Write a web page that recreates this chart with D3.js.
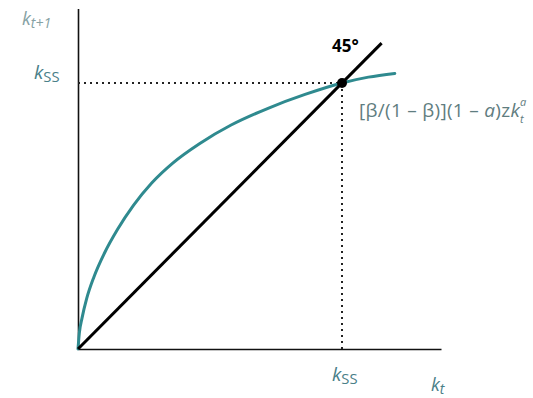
<!DOCTYPE html>
<html>
<head>
<meta charset="utf-8">
<script src="https://cdn.jsdelivr.net/npm/d3@7"></script>
<style>
  html, body { margin: 0; padding: 0; background: #fff; }
  svg { display: block; font-family: "Open Sans", "Liberation Sans", sans-serif; }
</style>
</head>
<body>
<svg id="chart" width="533" height="398"></svg>
<script>
// Steady state of capital, normalised so that k_ss = 1
const steadyState = 1;

// Savings curve k_{t+1} = [β/(1-β)](1-a) z k_t^a, sampled points (k_t, k_{t+1})
const curveK = [0, 0.005, 0.015, 0.033, 0.06, 0.1, 0.15, 0.21, 0.28, 0.36, 0.46, 0.58, 0.72, 0.86, 1.0, 1.1, 1.2];
const curveNext = [0, 0.06, 0.115, 0.19, 0.27, 0.36, 0.45, 0.54, 0.625, 0.70, 0.772, 0.842, 0.905, 0.957, 1.0, 1.022, 1.036];

// 45-degree line endpoints (k_t = k_{t+1})
const diagonal = [0, 1.15];

// Axis extents
const xMax = 1.375;
const yMax = 1.28;

const svg = d3.select("#chart");
const x0 = 78, y0 = 349;
const x = d3.scaleLinear().domain([0, 1]).range([x0, 342]);
const y = d3.scaleLinear().domain([0, 1]).range([y0, 83]);

const teal = "#2f8a8f";
const labelTeal = "#4a8088";
const formulaGrey = "#5f7d80";

// Axes (no ticks)
const xAxis = d3.axisBottom(x.copy().domain([0, xMax]).range([x0, x(xMax)])).tickValues([]).tickSizeOuter(0);
const yAxis = d3.axisLeft(y.copy().domain([0, yMax]).range([y0, y(yMax)])).tickValues([]).tickSizeOuter(0);
svg.append("g").attr("transform", `translate(0,${y0})`).call(xAxis)
  .select(".domain").attr("stroke", "#111").attr("stroke-width", 1.6);
svg.append("g").attr("transform", `translate(${x0},0)`).call(yAxis)
  .select(".domain").attr("stroke", "#111").attr("stroke-width", 1.6);

// Dotted guides to the steady state
svg.append("line")
  .attr("x1", x(0)).attr("x2", x(steadyState))
  .attr("y1", y(steadyState)).attr("y2", y(steadyState))
  .attr("stroke", "#222").attr("stroke-width", 2).attr("stroke-dasharray", "2,4");
svg.append("line")
  .attr("x1", x(steadyState)).attr("x2", x(steadyState))
  .attr("y1", y(steadyState)).attr("y2", y(0))
  .attr("stroke", "#222").attr("stroke-width", 2).attr("stroke-dasharray", "2,4");

// Savings curve
const pts = curveK.map((k, i) => [k, curveNext[i]]);
const line = d3.line().x(d => x(d[0])).y(d => y(d[1])).curve(d3.curveMonotoneX);
svg.append("path").datum(pts)
  .attr("d", line)
  .attr("fill", "none").attr("stroke", teal).attr("stroke-width", 3)
  .attr("stroke-linecap", "round");

// 45-degree line
svg.append("line")
  .attr("x1", x(diagonal[0])).attr("y1", y(diagonal[0]))
  .attr("x2", x(diagonal[1])).attr("y2", y(diagonal[1]))
  .attr("stroke", "#000").attr("stroke-width", 3);

// Steady state point
svg.append("circle")
  .attr("cx", x(steadyState)).attr("cy", y(steadyState)).attr("r", 5)
  .attr("fill", "#000");

// Axis and point labels
const kLabel = (xp, yp, sub, fill, size, subItalic) => {
  const t = svg.append("text").attr("x", xp).attr("y", yp).attr("fill", fill).attr("font-size", size);
  t.append("tspan").attr("font-style", "italic").text("k");
  t.append("tspan").attr("font-size", size * 0.78).attr("dy", 3)
    .attr("font-style", subItalic ? "italic" : "normal").text(sub);
  return t;
};

kLabel(22, 25, "t+1", "#86a2a4", 18, true);
kLabel(34, 79, "SS", labelTeal, 19, false);
kLabel(332, 381, "SS", labelTeal, 19, false);
kLabel(431, 391, "t", labelTeal, 18, true);

svg.append("text")
  .attr("x", 332).attr("y", 52)
  .attr("font-size", 17).attr("font-weight", "bold").attr("fill", "#000")
  .text("45°");

// Curve formula label
const fx = 359, fy = 117;
const f = svg.append("text").attr("x", fx).attr("y", fy).attr("font-size", 19)
  .attr("letter-spacing", 0.3).attr("fill", formulaGrey);
f.append("tspan").text("[β/(1 – β)](1 – ");
f.append("tspan").attr("font-style", "italic").text("a");
f.append("tspan").text(")z");
f.append("tspan").attr("font-style", "italic").text("k");
const fSubX = Math.min(fx + f.node().getComputedTextLength(), 524);
svg.append("text").attr("x", fSubX).attr("y", fy + 6).attr("font-size", 11)
  .attr("font-style", "italic").attr("fill", formulaGrey).text("t");
svg.append("text").attr("x", fSubX).attr("y", fy - 11).attr("font-size", 11)
  .attr("font-style", "italic").attr("fill", formulaGrey).text("a");
</script>
</body>
</html>
